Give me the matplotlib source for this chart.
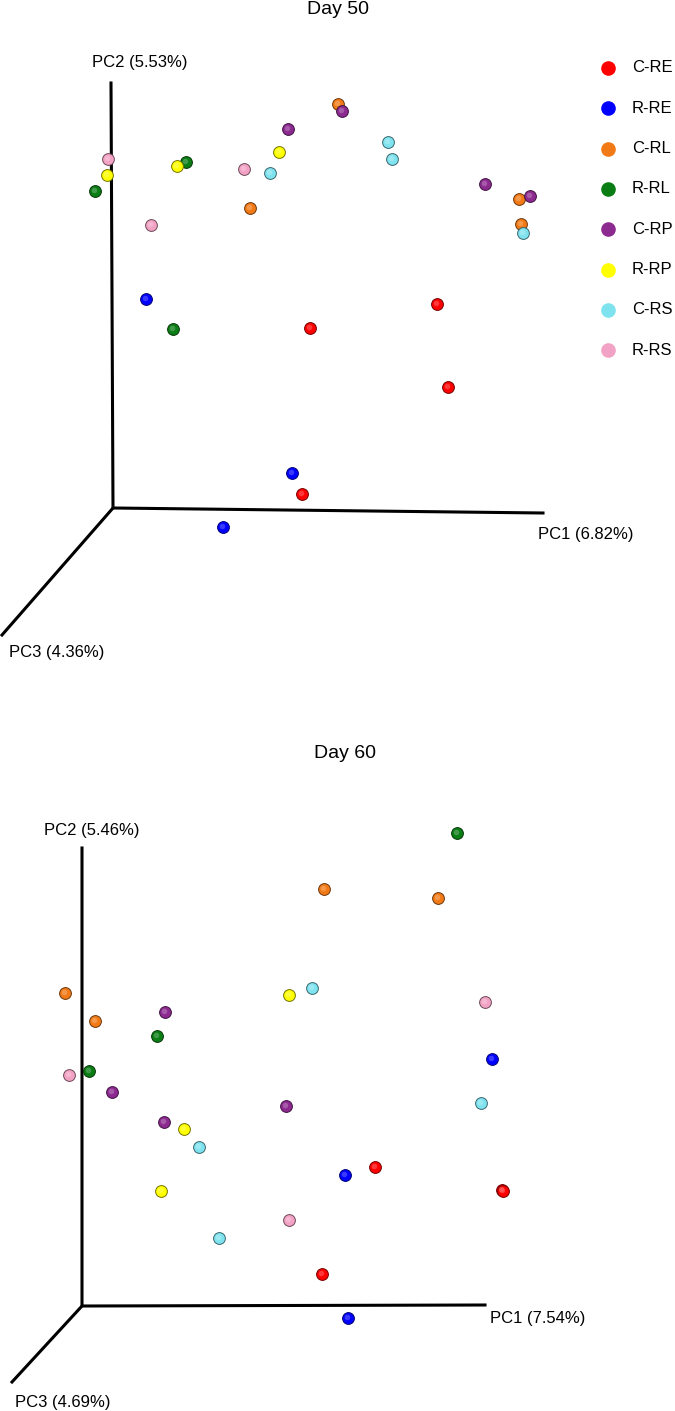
import matplotlib
matplotlib.use("Agg")
from matplotlib import pyplot as plt
from matplotlib import colors as mcolors
import numpy as np

plt.rcParams['font.family'] = ['Liberation Sans', 'DejaVu Sans']

# groups and colours
groups = ['C-RE', 'R-RE', 'C-RL', 'R-RL', 'C-RP', 'R-RP', 'C-RS', 'R-RS']
group_colors = ['#ff0000', '#0000ff', '#f27a16', '#0a7d14',
                '#8c2a90', '#ffff00', '#7fe3ef', '#f2a2c4']

# Day 50 - projected PCoA coordinates (screen units, origin at axis corner)
d50_group = ['C-RE'] * 4 + ['R-RE'] * 3 + ['C-RL'] * 4 + ['R-RL'] * 3 + \
            ['C-RP'] * 4 + ['R-RP'] * 3 + ['C-RS'] * 4 + ['R-RS'] * 3
d50_x = [324, 197, 335, 189,   33, 179, 110,   225, 406, 137, 408,   73, -18, 60,
         229, 175, 372, 417,   166, 64, -6,   275, 279, 157, 410,   -5, 131, 38]
d50_y = [204, 180, 121, 14,   209, 35, -19,   404, 309, 300, 284,   346, 317, 179,
         397, 379, 324, 312,   356, 342, 333,   366, 349, 335, 275,   349, 339, 283]

# Day 60
d60_group = ['C-RE'] * 4 + ['R-RE'] * 3 + ['C-RL'] * 4 + ['R-RL'] * 3 + \
            ['C-RP'] * 4 + ['R-RP'] * 3 + ['C-RS'] * 4 + ['R-RS'] * 3
d60_x = [293, 420, 421, 240,   410, 263, 266,   242, 356, -17, 13,   375, 75, 7,
         83, 30, 204, 82,   207, 102, 79,   230, 399, 117, 137,   403, -13, 207]
d60_y = [139, 116, 115, 32,   247, 131, -12,   417, 408, 313, 285,   473, 270, 235,
         294, 214, 200, 184,   311, 177, 115,   318, 203, 159, 68,   304, 231, 86]

fig = plt.figure(figsize=(6.75, 14.11), dpi=100)
ax1 = fig.add_axes([0, 711 / 1411, 1, 700 / 1411])
ax2 = fig.add_axes([0, 0, 1, 711 / 1411])
ax1.set_xlim(-113, 562)
ax1.set_ylim(-192, 508)
ax2.set_xlim(-82, 593)
ax2.set_ylim(-105, 606)


def spheres(ax, x, y, color):
    rgb = np.array(mcolors.to_rgb(color))
    dark = rgb * 0.45
    light = rgb + (1 - rgb) * 0.45
    ax.scatter(x, y, s=72, color=rgb, edgecolors=[dark], linewidths=0.7, zorder=3)
    ax.scatter(np.array(x) - 1.4, np.array(y) + 1.4, s=16, color=light,
               alpha=0.5, linewidths=0, zorder=4)


def draw_panel(ax, title, title_xy, g, x, y, axes_ends, labels):
    g = np.array(g)
    x = np.array(x)
    y = np.array(y)
    for name, col in zip(groups, group_colors):
        m = g == name
        spheres(ax, x[m], y[m], col)
    top, right, diag = axes_ends
    ax.plot([top[0], 0, right[0]], [top[1], 0, right[1]], color='black', lw=2.2,
            solid_joinstyle='miter', zorder=2)
    ax.plot([0, diag[0]], [0, diag[1]], color='black', lw=2.2, zorder=2)
    ax.text(title_xy[0], title_xy[1], title, ha='center', va='center', fontsize=14)
    for (lx, ly, txt, ha) in labels:
        ax.text(lx, ly, txt, ha=ha, va='center', fontsize=12)
    ax.axis('off')


draw_panel(ax1, 'Day 50', (225, 498), d50_group, d50_x, d50_y,
           [(-2, 425), (430, -5), (-111, -127)],
           [(27, 445, 'PC2 (5.53%)', 'center'),
            (425, -27, 'PC1 (6.82%)', 'left'),
            (-56, -145, 'PC3 (4.36%)', 'center')])

draw_panel(ax2, 'Day 60', (263, 553), d60_group, d60_x, d60_y,
           [(0, 458), (403, 1), (-70, -76)],
           [(10, 476, 'PC2 (5.46%)', 'center'),
            (408, -13, 'PC1 (7.54%)', 'left'),
            (-19, -97, 'PC3 (4.69%)', 'center')])

# legend (top panel)
for i, (name, col) in enumerate(zip(groups, group_colors)):
    ly = 440 - i * 40.3
    ax1.plot(495, ly, 'o', ms=9.5, color=col, mec=col, zorder=3)
    ax1.text(519, ly, name, ha='left', va='center', fontsize=12)

plt.savefig('out.png', dpi=100)
